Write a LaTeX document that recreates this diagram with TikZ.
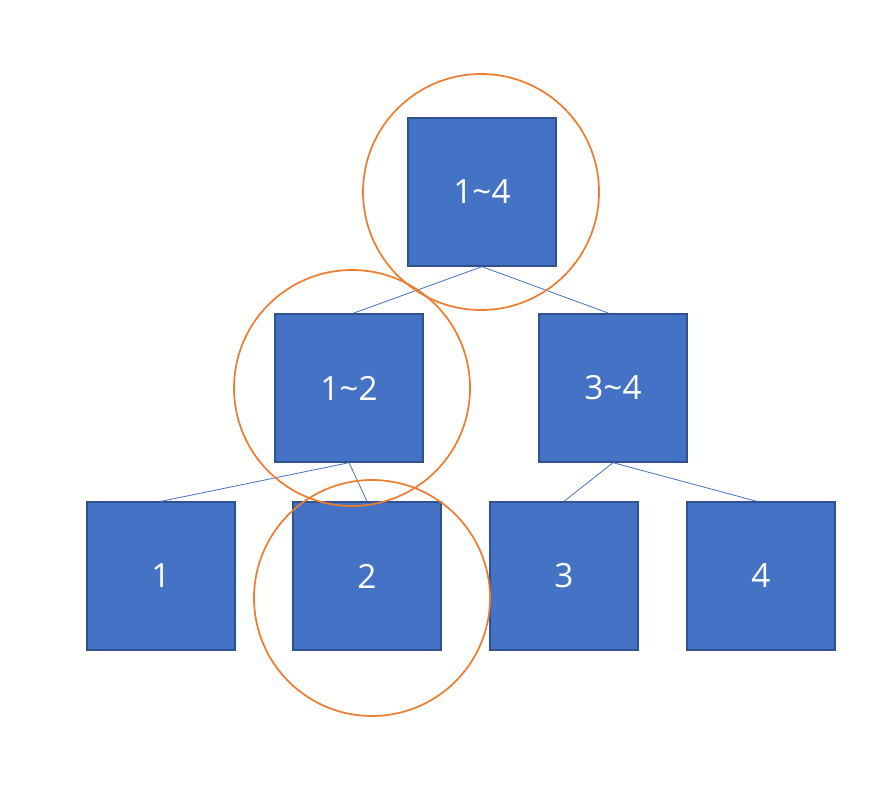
\documentclass[tikz,border=0pt]{standalone}
\usepackage{fontspec}
\setmainfont{Open Sans}
\usepackage{xcolor}
\definecolor{boxfill}{HTML}{4472C4}
\definecolor{boxline}{HTML}{2F528F}
\definecolor{ringcol}{HTML}{ED7D31}
\begin{document}
\begin{tikzpicture}[x=0.75pt,y=0.75pt,yscale=-1,xscale=1,
  segbox/.style={draw=boxline,fill=boxfill,line width=1pt,minimum width=111pt,minimum height=111pt,inner sep=0pt,text=white,font=\fontsize{25}{30}\selectfont},
  segline/.style={draw=boxfill,line width=0.6pt},
  ring/.style={draw=ringcol,line width=1.3pt}]
\useasboundingbox (0,0) rectangle (887,792);
% boxes
\node [segbox] (n14) at (482,192) {1\textasciitilde4};
\node [segbox] (n12) at (349,388) {1\textasciitilde2};
\node [segbox] (n34) at (613,388) {3\textasciitilde4};
\node [segbox] (n1) at (161,576) {1};
\node [segbox] (n2) at (367,576) {2};
\node [segbox] (n3) at (564,576) {3};
\node [segbox] (n4) at (761,576) {4};
% links
\draw [segline] (n14.south) -- ([xshift=3pt]n12.north);
\draw [segline] (n14.south) -- ([xshift=-3pt]n34.north);
\draw [segline] (n12.south) -- (n1.north);
\draw [segline] (n12.south) -- (n2.north);
\draw [segline] (n34.south) -- (n3.north);
\draw [segline] (n34.south) -- ([xshift=-3pt]n4.north);
% rings
\draw [ring] (481,192) circle (88.5pt);
\draw [ring] (352,388) circle (88.5pt);
\draw [ring] (372,598) circle (88.5pt);
\end{tikzpicture}
\end{document}
